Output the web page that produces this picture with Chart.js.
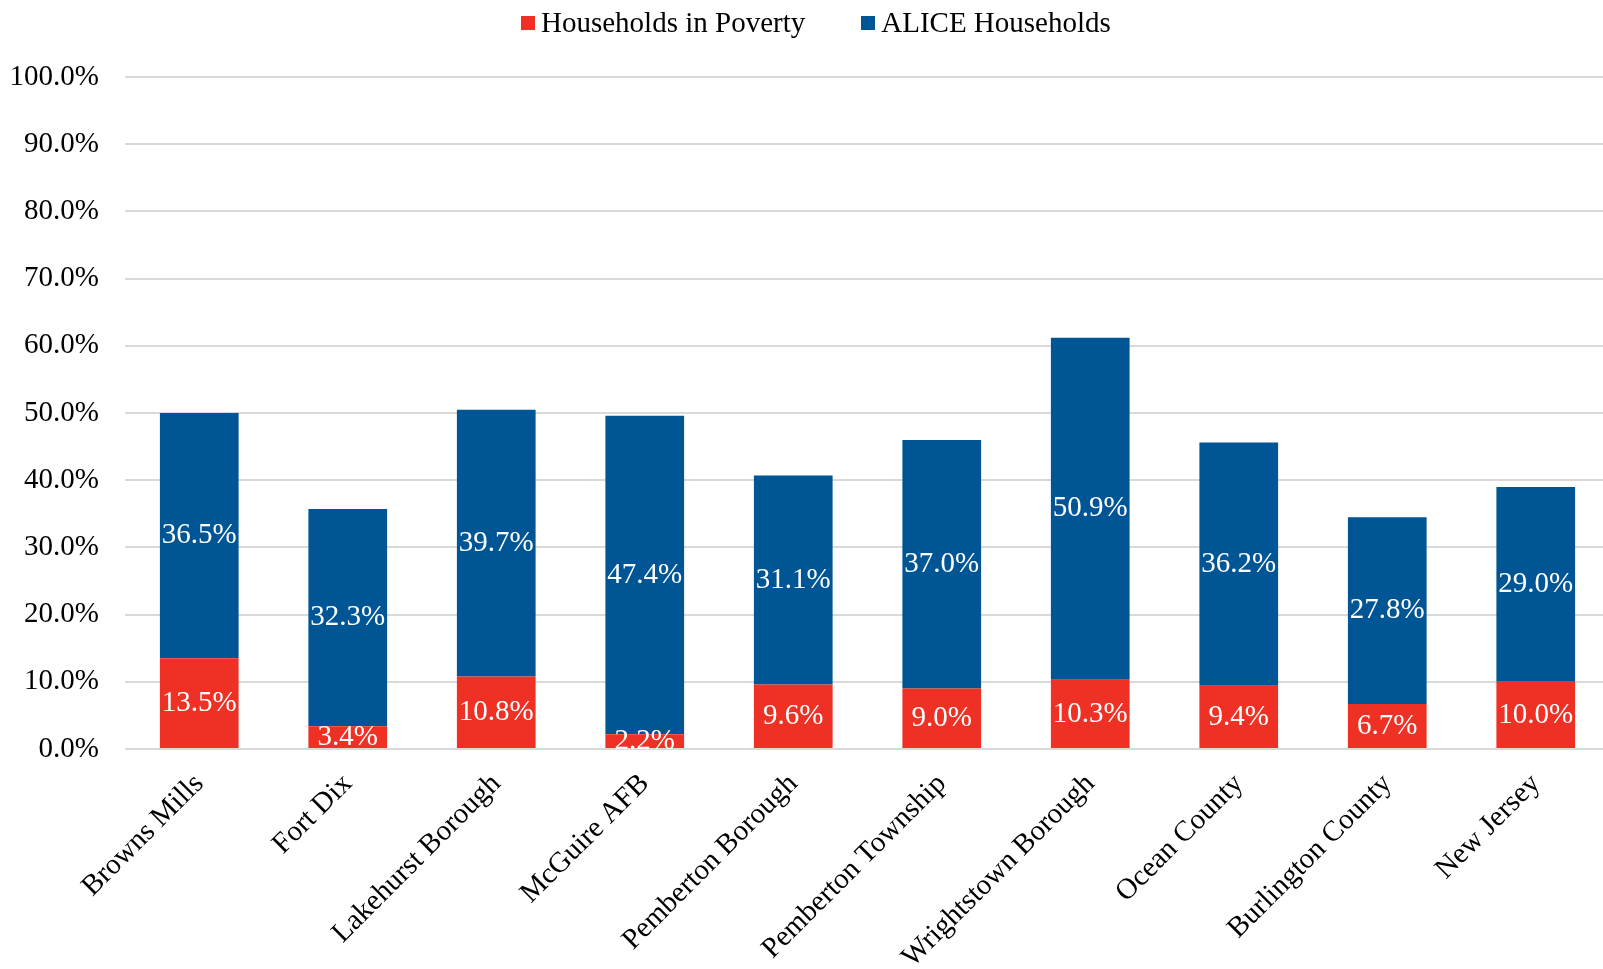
<!DOCTYPE html>
<html>
<head>
<meta charset="utf-8">
<title>Households in Poverty and ALICE Households</title>
<script src="https://cdn.jsdelivr.net/npm/chart.js@4/dist/chart.umd.min.js"></script>
<style>
    body { margin: 0; background: #fff; overflow: hidden; }
    #wrap { width: 1610px; height: 969px; position: relative; }
    #legend {
        position: absolute; top: 6px; left: 521px;
        display: flex; align-items: center;
        font: 29px 'Liberation Serif', 'Times New Roman', serif; color: #000;
    }
    #legend .item { display: flex; align-items: center; margin-right: 56px; }
    #legend .box { width: 14px; height: 14px; margin-right: 6px; }
</style>
</head>
<body>
<div id="wrap">
    <canvas id="aliceChart"></canvas>
    <div id="legend"></div>
</div>
<script>
const places = ["Browns Mills", "Fort Dix", "Lakehurst Borough", "McGuire AFB", "Pemberton Borough",
    "Pemberton Township", "Wrightstown Borough", "Ocean County", "Burlington County", "New Jersey"];
const povertyPct = [13.5, 3.4, 10.8, 2.2, 9.6, 9.0, 10.3, 9.4, 6.7, 10.0];
const alicePct = [36.5, 32.3, 39.7, 47.4, 31.1, 37.0, 50.9, 36.2, 27.8, 29.0];
const yTicks = [0, 10, 20, 30, 40, 50, 60, 70, 80, 90, 100];

const serif = "'Liberation Serif', 'Times New Roman', serif";
Chart.defaults.font.family = serif;
Chart.defaults.font.size = 29;
Chart.defaults.color = "#000";

// White value labels in the middle of each bar segment
const segmentLabels = {
    id: "segmentLabels",
    afterDatasetsDraw(chart) {
        const ctx = chart.ctx;
        const area = chart.chartArea;
        ctx.save();
        ctx.beginPath();
        ctx.rect(area.left, area.top, area.right - area.left, area.bottom - area.top);
        ctx.clip();
        ctx.fillStyle = "#fff";
        ctx.font = "29px " + serif;
        ctx.textAlign = "center";
        ctx.textBaseline = "middle";
        chart.data.datasets.forEach((ds, i) => {
            chart.getDatasetMeta(i).data.forEach((bar, j) => {
                ctx.fillText(ds.data[j].toFixed(1) + "%", bar.x, (bar.y + bar.base) / 2);
            });
        });
        ctx.restore();
    }
};

const chart = new Chart(document.getElementById("aliceChart"), {
    type: "bar",
    data: {
        labels: places,
        datasets: [{
            label: "Households in Poverty",
            data: povertyPct,
            backgroundColor: "#ee3124"
        }, {
            label: "ALICE Households",
            data: alicePct,
            backgroundColor: "#005595"
        }]
    },
    options: {
        responsive: true,
        maintainAspectRatio: false,
        animation: false,
        categoryPercentage: 0.53,
        barPercentage: 1,
        layout: { padding: { top: 77, right: 0, bottom: 0, left: 0 } },
        plugins: {
            tooltip: { enabled: false },
            legend: { display: false }
        },
        scales: {
            x: {
                stacked: true,
                grid: { display: false },
                border: { display: false },
                ticks: { minRotation: 45, maxRotation: 45, padding: 10, autoSkip: false },
                afterFit(scale) { scale.height = 220; }
            },
            y: {
                stacked: true,
                min: 0,
                max: 100,
                border: { display: false },
                grid: { color: "#d9d9d9", lineWidth: 2, drawTicks: false },
                afterBuildTicks(scale) { scale.ticks = yTicks.map(v => ({ value: v })); },
                ticks: {
                    padding: 26,
                    callback: v => v.toFixed(1) + "%"
                },
                afterFit(scale) { scale.width = 125; }
            }
        }
    },
    plugins: [segmentLabels]
});

// Legend built from the datasets
const legend = document.getElementById("legend");
chart.data.datasets.forEach(ds => {
    const item = document.createElement("div");
    item.className = "item";
    item.innerHTML = `<span class="box" style="background:${ds.backgroundColor}"></span><span>${ds.label}</span>`;
    legend.appendChild(item);
});
</script>
</body>
</html>
